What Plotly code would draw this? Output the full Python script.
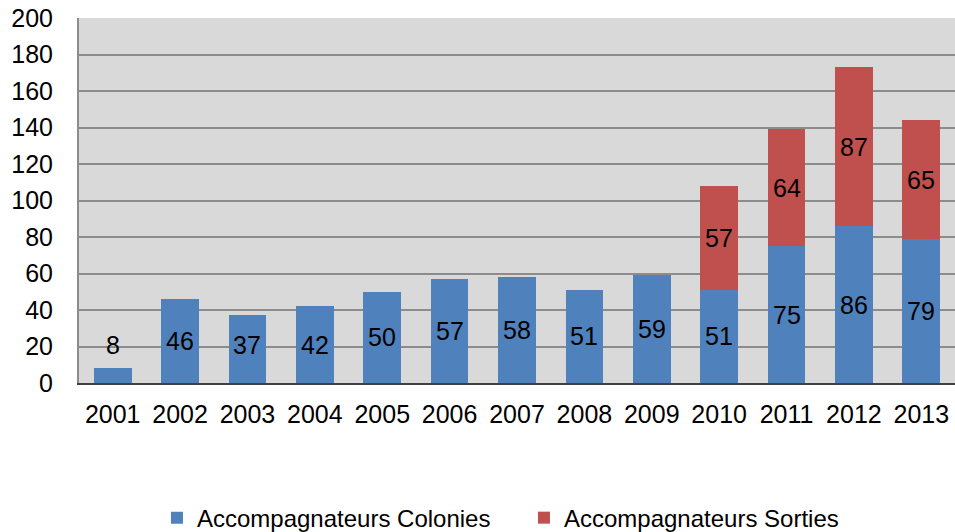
import plotly.graph_objects as go

years = ["2001", "2002", "2003", "2004", "2005", "2006", "2007", "2008", "2009", "2010", "2011", "2012", "2013"]
colonies = [8, 46, 37, 42, 50, 57, 58, 51, 59, 51, 75, 86, 79]
sorties = [None, None, None, None, None, None, None, None, None, 57, 64, 87, 65]
y_ticks = [0, 20, 40, 60, 80, 100, 120, 140, 160, 180, 200]

BLUE = "#4F81BD"
RED = "#C0504D"
FONT = "Liberation Sans, Arial, sans-serif"

fig = go.Figure()
fig.add_trace(go.Bar(x=years, y=colonies, name="Accompagnateurs Colonies",
                     marker=dict(color=BLUE, line=dict(width=0))))
fig.add_trace(go.Bar(x=years, y=[s if s is not None else 0 for s in sorties],
                     name="Accompagnateurs Sorties",
                     marker=dict(color=RED, line=dict(width=0))))

# data labels centered in segments (category axis -> use serial index)
ann = []
for i, c in enumerate(colonies):
    ann.append(dict(x=i, y=max(c / 2, 21), xref="x", yref="y", text=str(c), showarrow=False,
                    font=dict(size=25, color="black", family=FONT), yanchor="middle"))
for i, (c, s) in enumerate(zip(colonies, sorties)):
    if s is not None:
        ann.append(dict(x=i, y=c + s / 2, xref="x", yref="y", text=str(s), showarrow=False,
                        font=dict(size=25, color="black", family=FONT), yanchor="middle"))

fig.update_layout(
    barmode="stack",
    bargap=0.44,
    width=955, height=532,
    margin=dict(l=79, r=0, t=18, b=149, autoexpand=False),
    paper_bgcolor="white",
    plot_bgcolor="#D9D9D9",
    font=dict(family=FONT, size=25, color="black"),
    annotations=ann,
    showlegend=True,
    legend=dict(orientation="h", x=0.089, xanchor="left", y=-0.37, yanchor="middle",
                font=dict(size=24, family=FONT), entrywidth=322, entrywidthmode="pixels",
                itemsizing="constant", traceorder="normal", bgcolor="rgba(0,0,0,0)"),
    xaxis=dict(type="category", showgrid=False, showline=True, linecolor="#404040", linewidth=1.5,
               ticks="", tickfont=dict(size=25), ticklabelstandoff=8),
    yaxis=dict(range=[0, 200], tickvals=y_ticks, showgrid=True, gridcolor="#8C8C8C", gridwidth=1.5,
               showline=True, linecolor="#8C8C8C", linewidth=2, ticks="", tickfont=dict(size=25),
               zeroline=False, ticklabelstandoff=19),
)

fig.write_html("out.html", config={"displayModeBar": False},
               post_script="document.body.style.margin='0';document.body.style.padding='0';")
